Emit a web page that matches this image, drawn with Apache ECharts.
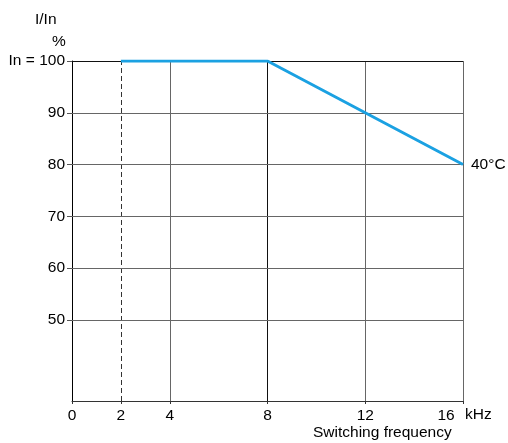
<!DOCTYPE html>
<html>
<head>
<meta charset="utf-8">
<script src="https://cdn.jsdelivr.net/npm/echarts@6/dist/echarts.min.js"></script>
<style>html,body{margin:0;padding:0;background:#fff;}#c{width:508px;height:443px;}</style>
</head>
<body>
<div id="c"></div>
<script>
// Data
var freqKHz = [2, 8, 16];
var currentPct = [100, 100, 80];
var curveLabel = '40°C';
var xTicks = [0, 2, 4, 8, 12, 16];
var yTicks = [50, 60, 70, 80, 90, 100];
var xGridGrey = [4, 12, 16];
var xGridDark = [8];
var xGridDashed = [2];
var yGridGrey = [50, 60, 70, 80, 90];
var yGridDark = [100];

var FONT = 'Liberation Sans, Arial, sans-serif';
var FS = 15.5;
var chart = echarts.init(document.getElementById('c'), null, {renderer: 'canvas'});

function vLines(vals, style) {
  return vals.map(function (v) { return {xAxis: v, lineStyle: style}; });
}
function hLines(vals, style) {
  return vals.map(function (v) { return {yAxis: v, lineStyle: style}; });
}

var greyStyle = {color: '#666', width: 1, type: 'solid'};
var darkStyle = {color: '#111', width: 1, type: 'solid'};
var dashStyle = {color: '#333', width: 1, type: [5, 3]};

chart.setOption({
  animation: false,
  backgroundColor: '#fff',
  grid: {left: 72, right: 45, top: 61, bottom: 42, containLabel: false},
  xAxis: {
    type: 'value', min: 0, max: 16,
    axisLine: {show: true, lineStyle: {color: '#333', width: 1}},
    axisTick: {show: true, length: 3, customValues: xTicks, lineStyle: {color: '#333'}},
    axisLabel: {
      customValues: xTicks, margin: 7, color: '#000', fontSize: FS, fontFamily: FONT,
      formatter: function (v) { return v === 16 ? '{r|16}' : String(v); },
      rich: {r: {fontSize: FS, fontFamily: FONT, color: '#000', padding: [0, 34, 0, 0]}}
    },
    splitLine: {show: false}
  },
  yAxis: {
    type: 'value', min: 34.3, max: 100,
    axisLine: {show: true, onZero: false, lineStyle: {color: '#000', width: 1}},
    axisTick: {show: true, length: 5, customValues: yTicks, lineStyle: {color: '#555'}},
    axisLabel: {
      customValues: yTicks, margin: 7, color: '#000', fontSize: FS, fontFamily: FONT,
      formatter: function (v) { return v === 100 ? 'In = 100' : String(v); }
    },
    splitLine: {show: false}
  },
  graphic: [
    {type: 'text', left: 35, top: 12, style: {text: 'I/In', fontSize: FS, fontFamily: FONT, fill: '#000'}},
    {type: 'text', left: 52, top: 34, style: {text: '%', fontSize: FS, fontFamily: FONT, fill: '#000'}},
    {type: 'text', left: 465, top: 407, style: {text: 'kHz', fontSize: FS, fontFamily: FONT, fill: '#000'}},
    {type: 'text', left: 313, top: 425, style: {text: 'Switching frequency', fontSize: FS, fontFamily: FONT, fill: '#000'}}
  ],
  series: [
    {
      type: 'line', data: [], z: 1, silent: true,
      markLine: {
        silent: true, symbol: ['none', 'none'], label: {show: false}, animation: false,
        data: [].concat(
          vLines(xGridGrey, greyStyle),
          vLines(xGridDark, darkStyle),
          vLines(xGridDashed, dashStyle),
          hLines(yGridGrey, greyStyle),
          hLines(yGridDark, darkStyle)
        )
      }
    },
    {
      type: 'line', z: 5,
      data: freqKHz.map(function (x, i) { return [x, currentPct[i]]; }),
      symbol: 'none',
      lineStyle: {color: '#1ba1e2', width: 3},
      endLabel: {show: true, formatter: curveLabel, distance: 8, color: '#000', fontSize: FS, fontFamily: FONT}
    }
  ]
});
</script>
</body>
</html>
